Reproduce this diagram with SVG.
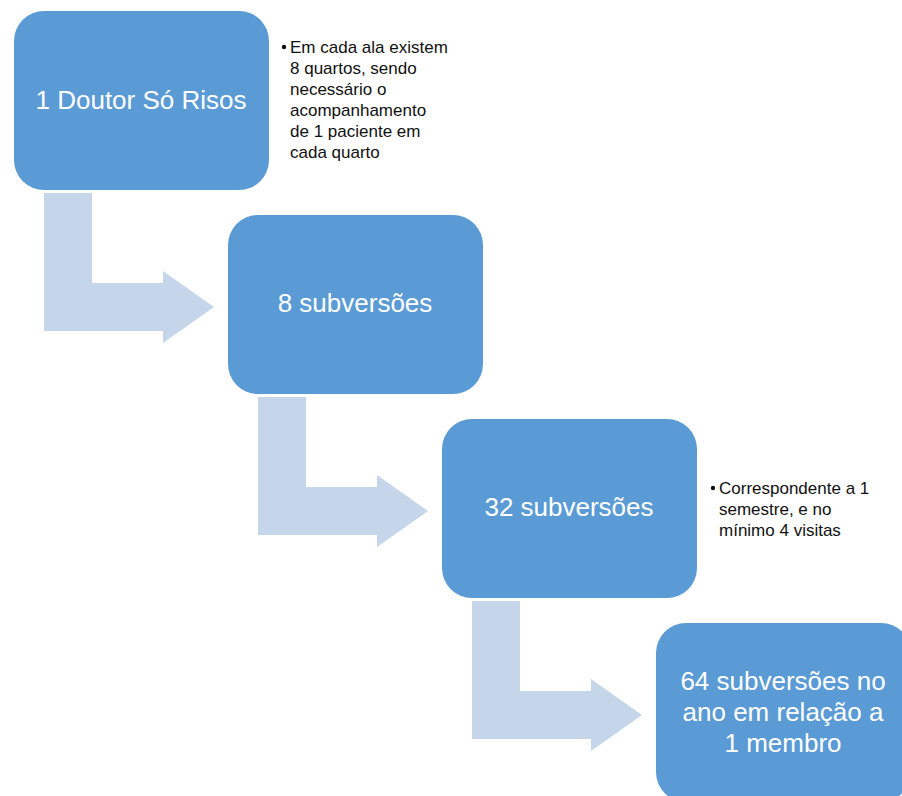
<svg xmlns="http://www.w3.org/2000/svg" width="902" height="796" viewBox="0 0 902 796">
<style>
.box{fill:#5B9BD5}
.arrow{fill:#C5D6EB}
.bt{font-family:"Liberation Sans",Arial,sans-serif;font-size:26px;fill:#FFFFFF;text-anchor:middle}
.nt{font-family:"Liberation Sans",Arial,sans-serif;font-size:17px;fill:#111111}
</style>
<rect width="902" height="796" fill="#FFFFFF"/>
<g id="connectors">
<path class="arrow" d="M44,193 H92 V283 H163 V271 L214,307 L163,343 V331 H44 Z"/>
<path class="arrow" d="M258,397 H306 V487 H377 V475 L428,511 L377,547 V535 H258 Z"/>
<path class="arrow" d="M472,601 H520 V691 H591 V679 L642,715 L591,751 V739 H472 Z"/>
</g>
<g id="node1">
<rect class="box" x="14" y="11" width="255" height="179" rx="30"/>
<text class="bt" x="141" y="109">1 Doutor Só Risos</text>
</g>
<g id="note1">
<circle cx="284" cy="47" r="2.2" fill="#111111"/>
<text class="nt" x="290" y="53">Em cada ala existem</text>
<text class="nt" x="290" y="74">8 quartos, sendo</text>
<text class="nt" x="290" y="95">necessário o</text>
<text class="nt" x="290" y="116">acompanhamento</text>
<text class="nt" x="290" y="137">de 1 paciente em</text>
<text class="nt" x="290" y="158">cada quarto</text>
</g>
<g id="node2">
<rect class="box" x="228" y="215" width="255" height="179" rx="30"/>
<text class="bt" x="355" y="312">8 subversões</text>
</g>
<g id="node3">
<rect class="box" x="442" y="419" width="255" height="179" rx="30"/>
<text class="bt" x="569" y="516">32 subversões</text>
</g>
<g id="note3">
<circle cx="713" cy="488" r="2.2" fill="#111111"/>
<text class="nt" x="719" y="494">Correspondente a 1</text>
<text class="nt" x="719" y="515">semestre, e no</text>
<text class="nt" x="719" y="536">mínimo 4 visitas</text>
</g>
<g id="node4">
<rect class="box" x="656" y="623" width="255" height="179" rx="30"/>
<text class="bt" x="783" y="690">64 subversões no</text>
<text class="bt" x="783" y="721">ano em relação a</text>
<text class="bt" x="783" y="752">1 membro</text>
</g>
</svg>
